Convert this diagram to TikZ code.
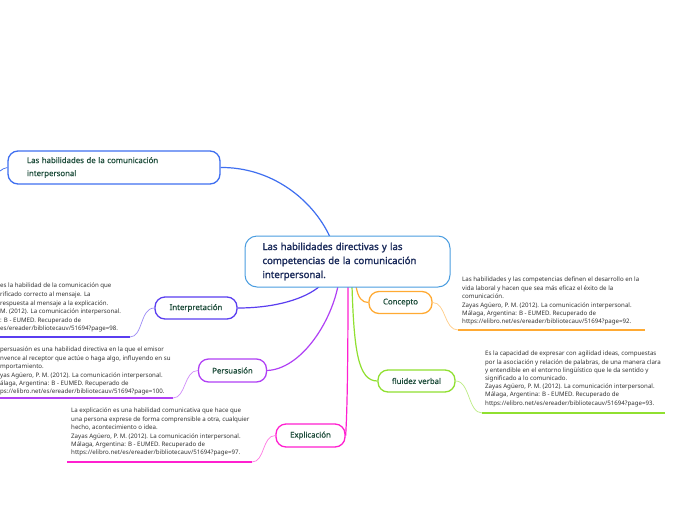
\documentclass[tikz,border=0pt]{standalone}
\usepackage{fontspec}
\setmainfont{Noto Sans}
\newfontfamily\centralfont{Noto Sans}[FakeBold=1.6]
\newfontfamily\topicfont{Noto Sans}[FakeBold=0.7]
\definecolor{cBlueTL}{HTML}{3F6FF0}
\definecolor{cCentral}{HTML}{4A9DE0}
\definecolor{cInterp}{HTML}{5A3EF0}
\definecolor{cPersu}{HTML}{B040F5}
\definecolor{cExpl}{HTML}{FF20D0}
\definecolor{cConc}{HTML}{FFAA33}
\definecolor{cFluid}{HTML}{90E030}
\definecolor{nodeText}{HTML}{1E4D3B}
\definecolor{centralText}{HTML}{1A2A5A}
\definecolor{leafText}{HTML}{333333}
\tikzset{
  topicbox/.style={draw, line width=1.3pt, rounded corners=10pt, fill=white, text=nodeText,
    font=\topicfont\fontsize{7.8}{13}\selectfont, inner sep=0pt, align=center},
  centralbox/.style={draw=cCentral, line width=1pt, rounded corners=12pt, fill=white, text=centralText,
    font=\centralfont\fontsize{9.6}{14}\selectfont, align=left, text width=170pt,
    inner xsep=17.5pt, inner ysep=0pt, minimum height=51pt},
  leaftext/.style={anchor=north west, inner sep=0pt, align=left, text=leafText,
    font=\fontsize{6.15}{8.4}\selectfont},
  mainlink/.style={line width=1.2pt},
  leaflink/.style={line width=0.7pt},
  underline/.style={line width=1.6pt}
}
\begin{document}
\begin{tikzpicture}[x=1pt,y=-1pt]
\useasboundingbox (0,0) rectangle (696,520);
\fill[white] (0,0) rectangle (696,520);

% main connector end points on the central topic
\coordinate (cTL) at (330,237);
\coordinate (cIP) at (320,286);
\coordinate (cPS) at (338,286);
\coordinate (cEX) at (348,286);
\coordinate (cFL) at (352,286);
\coordinate (cCO) at (356,286);

% top-left topic
\node[topicbox, draw=cBlueTL, align=left, text width=174pt, inner xsep=19pt, minimum height=33pt] (tl) at (114,167.5)
  {Las habilidades de la comunicación\\interpersonal};
\coordinate (tlEdge) at (0,171);
\draw[cBlueTL, leaflink] (tl.west) .. controls (4,167.5) and (2,170) .. (tlEdge);

% topics
\node[topicbox, draw=cInterp, minimum width=82pt, minimum height=22pt] (ip) at (196,308) {Interpretación};
\node[topicbox, draw=cPersu, minimum width=68pt, minimum height=23pt] (ps) at (232.5,370.5) {Persuasión};
\node[topicbox, draw=cExpl, minimum width=69pt, minimum height=23pt] (ex) at (310.5,435.5) {Explicación};
\node[topicbox, draw=cConc, minimum width=63pt, minimum height=22pt] (co) at (400.5,302.5) {Concepto};
\node[topicbox, draw=cFluid, minimum width=77pt, minimum height=22pt] (fl) at (416.5,381) {fluidez verbal};

% main connectors
\draw[cBlueTL, mainlink] (tl.east) .. controls (270,167) and (312,198) .. (cTL);
\draw[cInterp, mainlink] (ip.east) .. controls (275,308) and (305,299) .. (cIP);
\draw[cPersu, mainlink] (ps.east) .. controls (300,369) and (330,325) .. (cPS);
\draw[cExpl, mainlink] (cEX) .. controls (348,370) and (347,415) .. (ex.east);
\draw[cFluid, mainlink] (cFL) .. controls (354,350) and (358,381) .. (fl.west);
\draw[cConc, mainlink] (cCO) .. controls (358,298) and (362,302.5) .. (co.west);

% central topic, drawn over the link ends
\node[centralbox] (c) at (347.5,261.5)
  {Las habilidades directivas y las\\competencias de la comunicación\\interpersonal.};

% leaf texts
\node[leaftext, font=\fontsize{6.15}{8.6}\selectfont] (ipText) at (0,283) {es la habilidad de la comunicación que\\rificado correcto al mensaje. La\\respuesta al mensaje a la explicación.\\M. (2012). La comunicación interpersonal.\\: B - EUMED. Recuperado de\\es/ereader/bibliotecauv/51694?page=98.};
\node[leaftext] (psText) at (0,347) {persuasión es una habilidad directiva en la que el emisor\\nvence al receptor que actúe o haga algo, influyendo en su\\mportamiento.\\yas Agüero, P. M. (2012). La comunicación interpersonal.\\álaga, Argentina: B - EUMED. Recuperado de\\ps://elibro.net/es/ereader/bibliotecauv/51694?page=100.};
\node[leaftext] (exText) at (71,408) {La explicación es una habilidad comunicativa que hace que\\una persona exprese de forma comprensible a otra, cualquier\\hecho, acontecimiento o idea.\\Zayas Agüero, P. M. (2012). La comunicación interpersonal.\\Málaga, Argentina: B - EUMED. Recuperado de\\https://elibro.net/es/ereader/bibliotecauv/51694?page=97.};
\node[leaftext] (coText) at (462,277) {Las habilidades y las competencias definen el desarrollo en la\\vida laboral y hacen que sea más eficaz el éxito de la\\comunicación.\\Zayas Agüero, P. M. (2012). La comunicación interpersonal.\\Málaga, Argentina: B - EUMED. Recuperado de\\https://elibro.net/es/ereader/bibliotecauv/51694?page=92.};
\node[leaftext, font=\fontsize{6.15}{8.2}\selectfont] (flText) at (485,351) {Es la capacidad de expresar con agilidad ideas, compuestas\\por la asociación y relación de palabras, de una manera clara\\y entendible en el entorno lingüístico que le da sentido y\\significado a lo comunicado.\\Zayas Agüero, P. M. (2012). La comunicación interpersonal.\\Málaga, Argentina: B - EUMED. Recuperado de\\https://elibro.net/es/ereader/bibliotecauv/51694?page=93.};

% leaf links and underlines
\coordinate (ipU1) at (130,337); \coordinate (ipU0) at (0,337);
\draw[cInterp!60, leaflink] (ip.west) .. controls (140,308) and (143,337) .. (ipU1);
\draw[cInterp, underline] (ipU1) -- (ipU0);

\coordinate (psU1) at (173,398); \coordinate (psU0) at (0,398);
\draw[cPersu!60, leaflink] (ps.west) .. controls (184,370.5) and (186,398) .. (psU1);
\draw[cPersu, underline] (psU1) -- (psU0);

\coordinate (exU1) at (252,462); \coordinate (exU0) at (67,462);
\draw[cExpl!60, leaflink] (ex.west) .. controls (262,435.5) and (265,462) .. (exU1);
\draw[cExpl, underline] (exU1) -- (exU0);

\coordinate (coU0) at (458,330); \coordinate (coU1) at (645,330);
\draw[cConc!60, leaflink] (co.east) .. controls (446,302.5) and (444,330) .. (coU0);
\draw[cConc, underline] (coU0) -- (coU1);

\coordinate (flU0) at (482,413); \coordinate (flU1) at (665,413);
\draw[cFluid!60, leaflink] (fl.east) .. controls (470,381) and (468,413) .. (flU0);
\draw[cFluid, underline] (flU0) -- (flU1);
\end{tikzpicture}
\end{document}
